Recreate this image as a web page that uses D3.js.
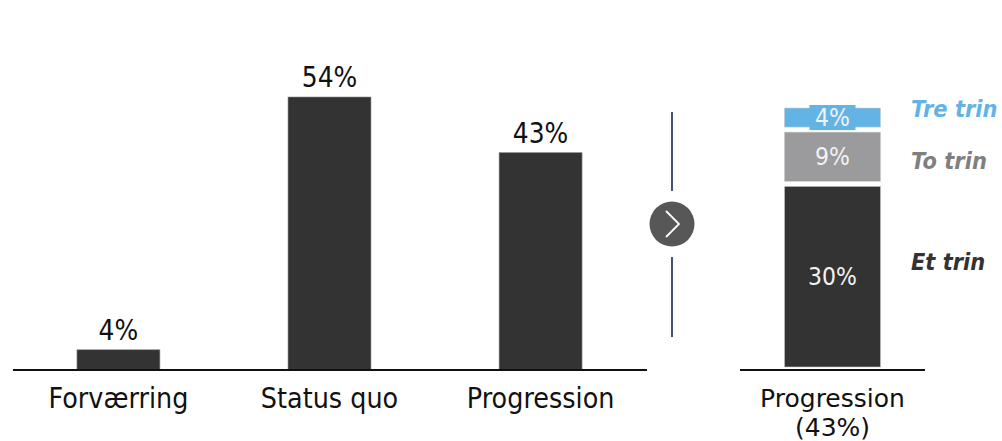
<!DOCTYPE html>
<html><head><meta charset="utf-8">
<script src="https://cdn.jsdelivr.net/npm/d3@7"></script>
<style>body{margin:0;background:#fff}svg{display:block}text{font-family:"DejaVu Sans",Verdana,sans-serif}</style>
</head><body>
<script>
const categories = ["Forværring", "Status quo", "Progression"];
const values = [4, 54, 43];
const stackLabels = ["Et trin", "To trin", "Tre trin"];
const stackValues = [30, 9, 4];
const stackCategory = ["Progression", "(43%)"];

(function () {
const W = 1002, H = 441, SY = 1.1;
const svg = d3.select("body").append("svg").attr("width", W).attr("height", H);
const place = (sel, fx, fy, sy = SY) => sel.attr("x", 0).attr("y", 0)
  .attr("transform", (d, i) => `translate(${fx(d, i)},${fy(d, i)}) scale(1,${sy})`);

// Left chart
const x = d3.scaleBand().domain(categories).range([13, 646]).paddingInner(0.607).paddingOuter(0.303);
const y = d3.scaleLinear().domain([0, 54]).range([370, 97]);

svg.selectAll("rect.bar").data(values).join("rect")
  .attr("x", (d, i) => x(categories[i])).attr("width", x.bandwidth())
  .attr("y", d => y(d)).attr("height", d => y(0) - y(d))
  .attr("fill", "#333333").attr("stroke", "#8a8a8a").attr("stroke-width", 0.6);

place(svg.selectAll("text.val").data(values).join("text"),
  (d, i) => x(categories[i]) + x.bandwidth() / 2, d => y(d) - 10)
  .attr("text-anchor", "middle").attr("font-size", 25).attr("fill", "#111").text(d => d + "%");

const xAxis = svg.append("g").attr("transform", "translate(0,370)")
  .call(d3.axisBottom(x).tickSize(0).tickPadding(15));
xAxis.select(".domain").attr("d", "M13,0H647").attr("stroke", "#111").attr("stroke-width", 2);
xAxis.selectAll(".tick text").attr("font-size", 25.5).attr("fill", "#111")
  .attr("font-family", '"DejaVu Sans",Verdana,sans-serif')
  .attr("y", 0).attr("dy", 0).attr("transform", `translate(0,38) scale(1,${SY})`);

// Divider with arrow
const div = svg.append("g");
div.append("line").attr("x1", 672).attr("x2", 672).attr("y1", 112).attr("y2", 191).attr("stroke", "#44546a").attr("stroke-width", 2);
div.append("line").attr("x1", 672).attr("x2", 672).attr("y1", 257).attr("y2", 337).attr("stroke", "#44546a").attr("stroke-width", 2);
div.append("circle").attr("cx", 672).attr("cy", 224).attr("r", 22.5).attr("fill", "#575757");
div.append("path").attr("d", "M666,211L679,224L666,237").attr("fill", "none").attr("stroke", "#fff").attr("stroke-width", 1.8);

// Right stacked chart
const xr = d3.scaleBand().domain(["Progression"]).range([740, 925]).paddingInner(0.48).paddingOuter(0.24);
const yr = d3.scaleLinear().domain([0, 43]).range([367, 108]);
const colors = ["#333333", "#9b9b9d", "#63b4e4"];
const legendColors = ["#333333", "#7f7f7f", "#63b4e4"];
let cum = 0;
const segs = stackValues.map((v, i) => { const s = {start: cum, end: cum + v, v, i}; cum += v; return s; });
const bx = xr("Progression"), bw = xr.bandwidth();
const segTop = d => yr(d.end), segBot = d => yr(d.start) - (d.i === 0 ? 0 : 5);

svg.selectAll("rect.seg").data(segs).join("rect")
  .attr("x", bx).attr("width", bw)
  .attr("y", segTop).attr("height", d => segBot(d) - segTop(d))
  .attr("fill", d => colors[d.i]).attr("stroke", "#cfcfcf").attr("stroke-width", 0.6);

// label background for small segment
const topSeg = segs[2];
svg.append("rect").attr("x", bx + bw / 2 - 23).attr("width", 46)
  .attr("y", segTop(topSeg) - 3).attr("height", segBot(topSeg) - segTop(topSeg) + 6)
  .attr("fill", colors[2]);

place(svg.selectAll("text.seg").data(segs).join("text"),
  () => bx + bw / 2, d => (segTop(d) + segBot(d)) / 2 + 8.8)
  .attr("text-anchor", "middle").attr("font-size", 22).attr("fill", "#f2f2f2")
  .text(d => d.v + "%");

svg.append("line").attr("x1", 740).attr("x2", 925).attr("y1", 370).attr("y2", 370).attr("stroke", "#111").attr("stroke-width", 2);

const legendY = [270, 169, 117];
place(svg.selectAll("text.leg").data(segs).join("text"), () => 911, d => legendY[d.i])
  .attr("font-size", 21).attr("font-weight", "bold").attr("font-style", "italic")
  .attr("fill", d => legendColors[d.i]).text(d => stackLabels[d.i]);

place(svg.selectAll("text.rcat").data(stackCategory).join("text"),
  () => bx + bw / 2, (d, i) => 407 + i * 29, 1)
  .attr("text-anchor", "middle").attr("font-size", 25).attr("fill", "#111").text(d => d);
})();
</script>
</body></html>
